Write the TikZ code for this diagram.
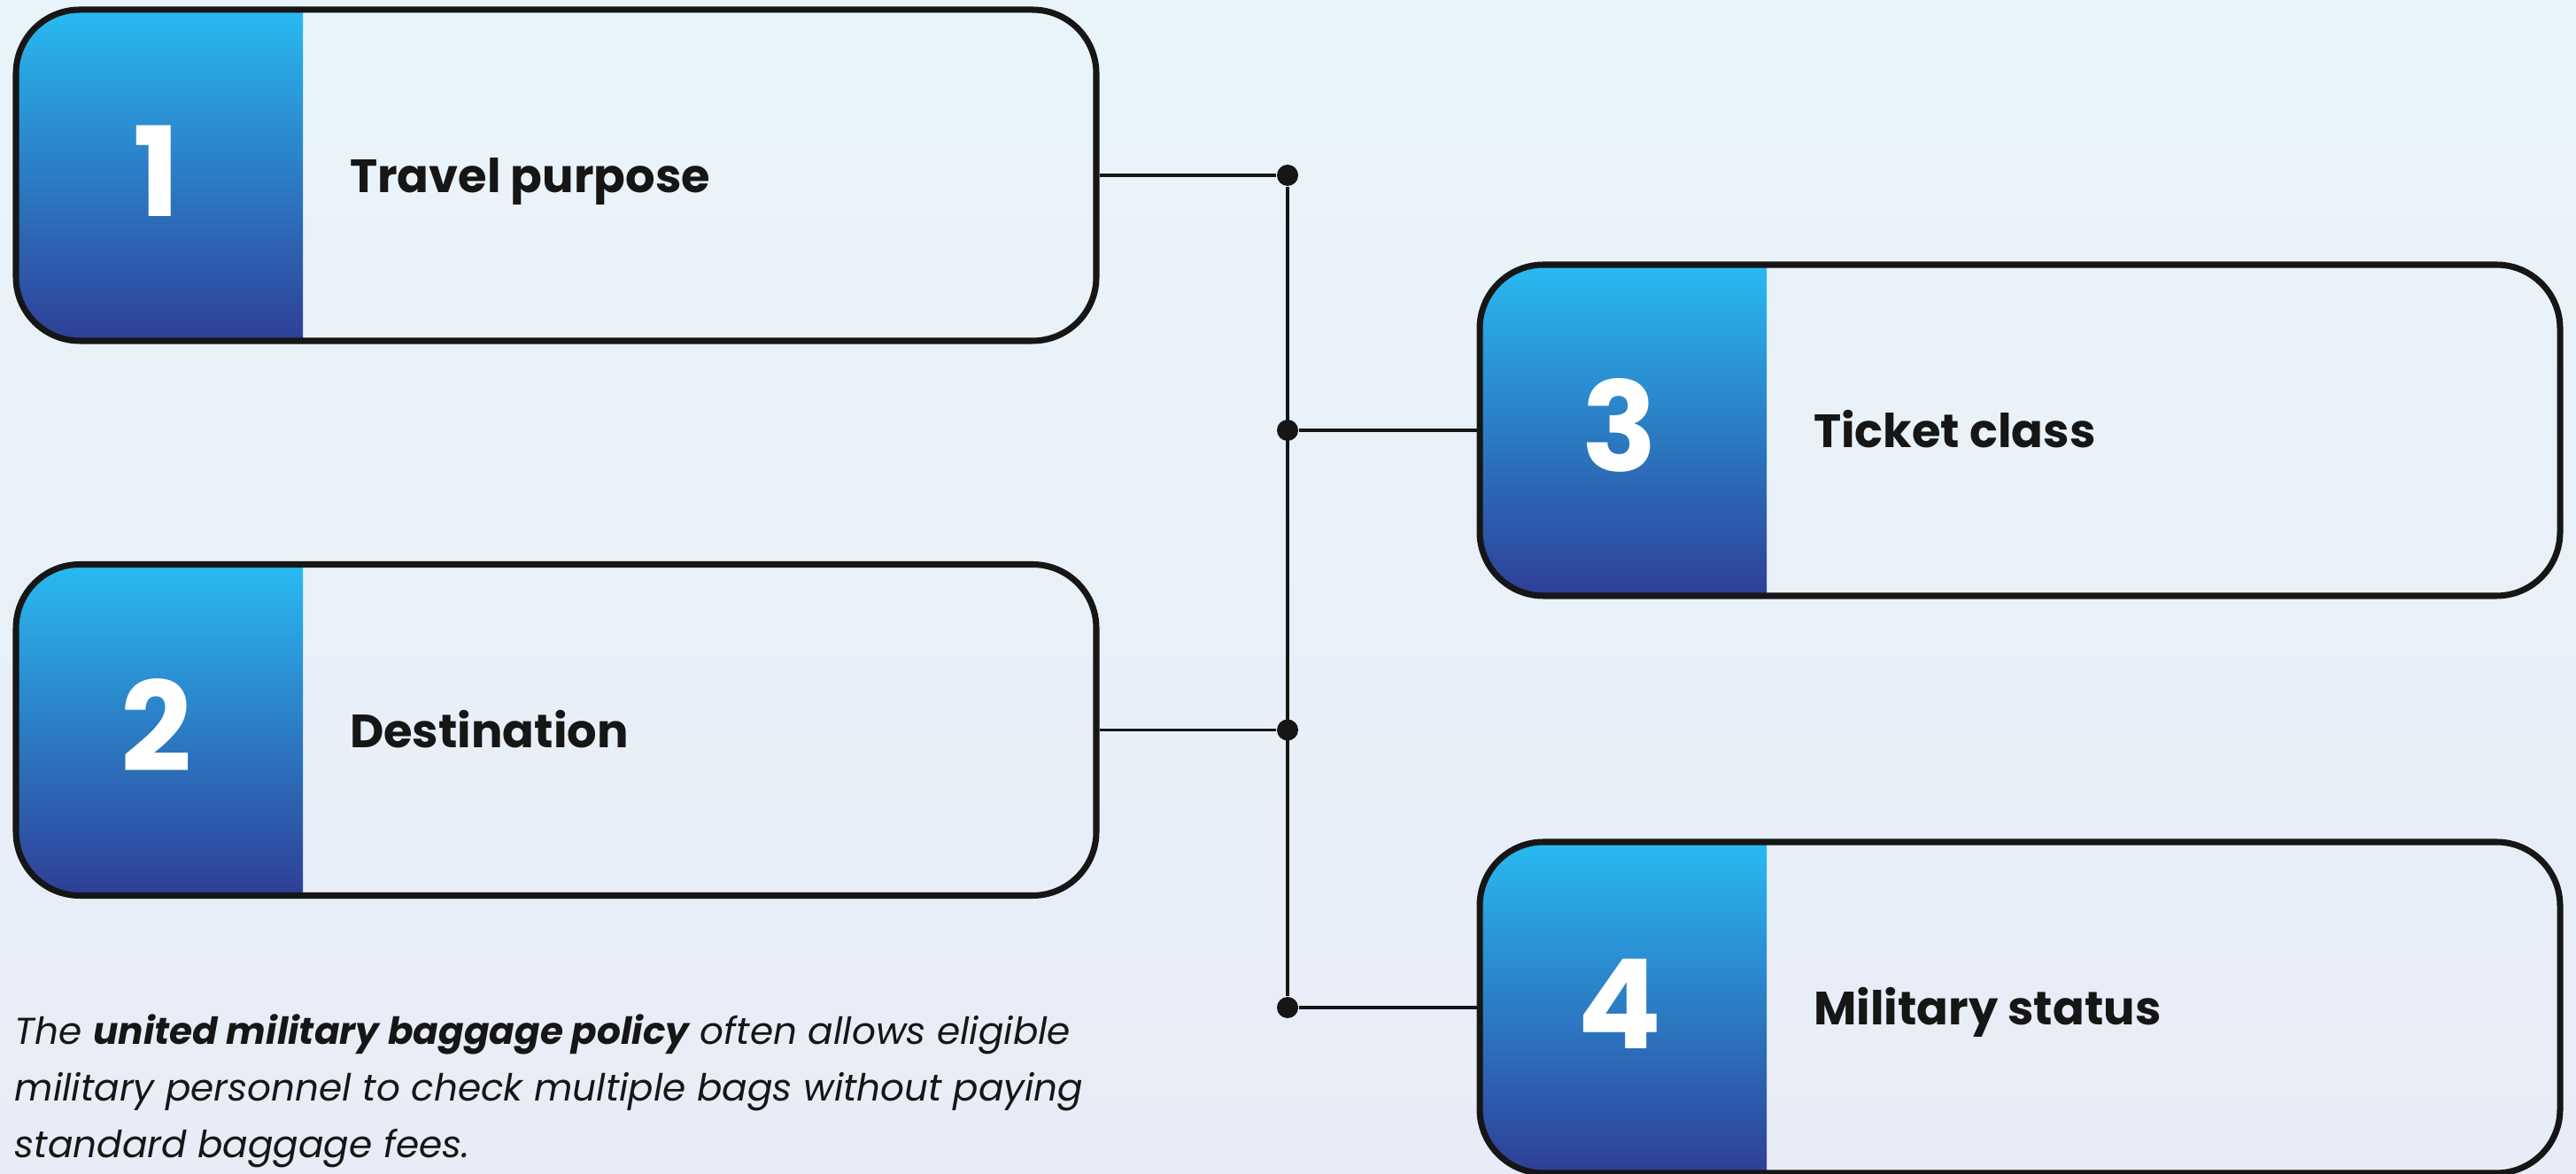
\documentclass[tikz,border=0pt]{standalone}
\usepackage{fontspec}
\setmainfont{Poppins}
\usetikzlibrary{positioning}
\definecolor{bgtop}{RGB}{233,244,250}
\definecolor{bgbot}{RGB}{232,236,246}
\definecolor{numtop}{RGB}{41,186,242}
\definecolor{numbot}{RGB}{46,62,150}
\definecolor{ink}{RGB}{22,22,22}
\tikzset{
  card/.style={draw=ink, line width=2pt, rounded corners=0.72cm,
    minimum width=12.2cm, minimum height=3.74cm, inner sep=0pt,
    path picture={\shade[sharp corners, top color=numtop, bottom color=numbot]
      (path picture bounding box.north west) rectangle ([xshift=3.24cm]path picture bounding box.south west);}},
  num/.style={text=white, anchor=base, inner sep=0pt, font=\fontsize{40}{40}\selectfont\bfseries},
  lbl/.style={text=ink, anchor=base west, inner sep=0pt, font=\fontsize{15}{18}\selectfont\bfseries},
  dot/.style={circle, fill=ink, inner sep=0pt, minimum size=0.24cm},
  wire/.style={draw=ink, line width=1pt},
  note/.style={align=left, inner sep=0pt, text=ink, font=\fontsize{12}{18.2}\selectfont\itshape},
}
\begin{document}
\begin{tikzpicture}
  \useasboundingbox (0,0) rectangle (29.09,-13.26);
  \shade[top color=bgtop, bottom color=bgbot] (0,0) rectangle (29.09,-13.26);
  \coordinate (bus) at (14.54,0);

  \foreach \n/\pos/\txt in {1/{6.28,-1.98}/Travel purpose, 2/{6.28,-8.245}/Destination,
                            3/{22.81,-4.86}/Ticket class, 4/{22.81,-11.38}/Military status} {
    \node[card] (c\n) at (\pos) {};
    \node[num] (n\n) at ([xshift=1.62cm,yshift=-0.47cm]c\n.west) {\n};
    \node[lbl] (t\n) at ([xshift=3.8cm,yshift=-0.2cm]c\n.west) {\txt};
  }

  \node[dot] (d1) at (c1.east -| bus) {};
  \node[dot] (d2) at (c2.east -| bus) {};
  \node[dot] (d3) at (c3.west -| bus) {};
  \node[dot] (d4) at (c4.west -| bus) {};
  \draw[wire] (c1.east) -- (d1);
  \draw[wire] (c2.east) -- (d2);
  \draw[wire] (c3.west) -- (d3);
  \draw[wire] (c4.west) -- (d4);
  \draw[wire] (d1) -- (d4);

  \node[note, anchor=north west] (note) at (0.16,-11.45)
    {The \textbf{united military baggage policy} often allows eligible\\
     military personnel to check multiple bags without paying\\
     standard baggage fees.};
\end{tikzpicture}
\end{document}
